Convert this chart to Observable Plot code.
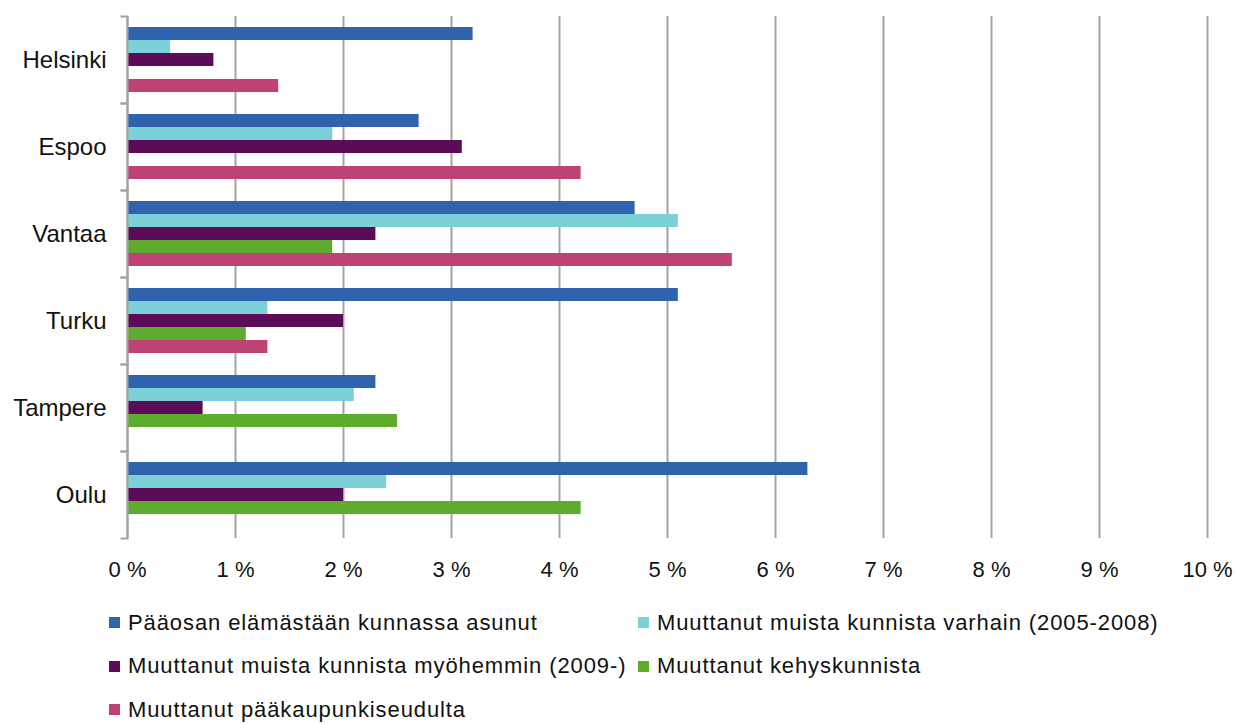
<!DOCTYPE html>
<html>
<head>
<meta charset="utf-8">
<script src="https://cdn.jsdelivr.net/npm/d3@7"></script>
<script src="https://cdn.jsdelivr.net/npm/@observablehq/plot@0.6"></script>
<style>
  body { margin: 0; background: #fff; font-family: "Liberation Sans", Arial, sans-serif; }
  #legend { display: flex; flex-wrap: wrap; width: 1100px; margin-left: 109px; margin-top: 11px; }
  .item { width: 529px; height: 43.5px; display: flex; align-items: center; font-size: 22px; letter-spacing: 0.9px; color: #111; white-space: nowrap; }
  .sw { width: 11px; height: 11px; margin-right: 8px; flex: none; }
</style>
</head>
<body>
<div id="chart"></div>
<div id="legend"></div>
<script>
const cities = ["Helsinki", "Espoo", "Vantaa", "Turku", "Tampere", "Oulu"];
const series = [
  "Pääosan elämästään kunnassa asunut",
  "Muuttanut muista kunnista varhain (2005-2008)",
  "Muuttanut muista kunnista myöhemmin (2009-)",
  "Muuttanut kehyskunnista",
  "Muuttanut pääkaupunkiseudulta"
];
const paaosan     = [3.2, 2.7, 4.7, 5.1, 2.3, 6.3];
const varhain     = [0.4, 1.9, 5.1, 1.3, 2.1, 2.4];
const myohemmin   = [0.8, 3.1, 2.3, 2.0, 0.7, 2.0];
const kehys       = [null, null, 1.9, 1.1, 2.5, 4.2];
const paakaupunki = [1.4, 4.2, 5.6, 1.3, null, null];
const xTicks = [0, 1, 2, 3, 4, 5, 6, 7, 8, 9, 10];
const colors = ["#3063ae", "#7cd0d8", "#5a0c57", "#5eac2e", "#c04174"];

const seriesValues = [paaosan, varhain, myohemmin, kehys, paakaupunki];
const data = [];
cities.forEach((city, i) => {
  series.forEach((s, j) => {
    const v = seriesValues[j][i];
    if (v != null) data.push({city, series: s, value: v});
  });
});

const gray = "#a3a3a3";
const chart = Plot.plot({
  width: 1237,
  height: 590,
  marginTop: 14,
  marginBottom: 51,
  marginLeft: 127,
  marginRight: 30,
  style: { fontFamily: '"Liberation Sans", Arial, sans-serif', color: "#111", background: "#fff" },
  x: { domain: [0, 10] },
  y: { domain: series, paddingInner: 0, paddingOuter: 0.82, axis: null },
  fy: { domain: cities, padding: 0 },
  color: { domain: series, range: colors },
  marks: [
    Plot.gridX({ ticks: xTicks, stroke: gray, strokeOpacity: 1, strokeWidth: 2 }),
    Plot.barX(data, { x: "value", y: "series", fy: "city", fill: "series" }),
    Plot.ruleX([0], { stroke: gray, strokeWidth: 2 }),
    Plot.frame({ anchor: "top", stroke: gray, strokeWidth: 2, insetLeft: -6, insetRight: 1080 }),
    Plot.frame({ anchor: "bottom", stroke: gray, strokeWidth: 2, insetLeft: -6, insetRight: 1080 }),
    Plot.axisX({ ticks: xTicks, tickFormat: d => `${d} %`, tickSize: 0, tickPadding: 23, fontSize: 22, label: null }),
    Plot.axisFy({ anchor: "left", tickSize: 0, tickPadding: 21, fontSize: 24, label: null })
  ]
});
document.getElementById("chart").appendChild(chart);

const legend = document.getElementById("legend");
series.forEach((s, j) => {
  const item = document.createElement("div");
  item.className = "item";
  const sw = document.createElement("span");
  sw.className = "sw";
  sw.style.background = colors[j];
  const t = document.createElement("span");
  t.textContent = s;
  item.appendChild(sw);
  item.appendChild(t);
  legend.appendChild(item);
});
</script>
</body>
</html>
